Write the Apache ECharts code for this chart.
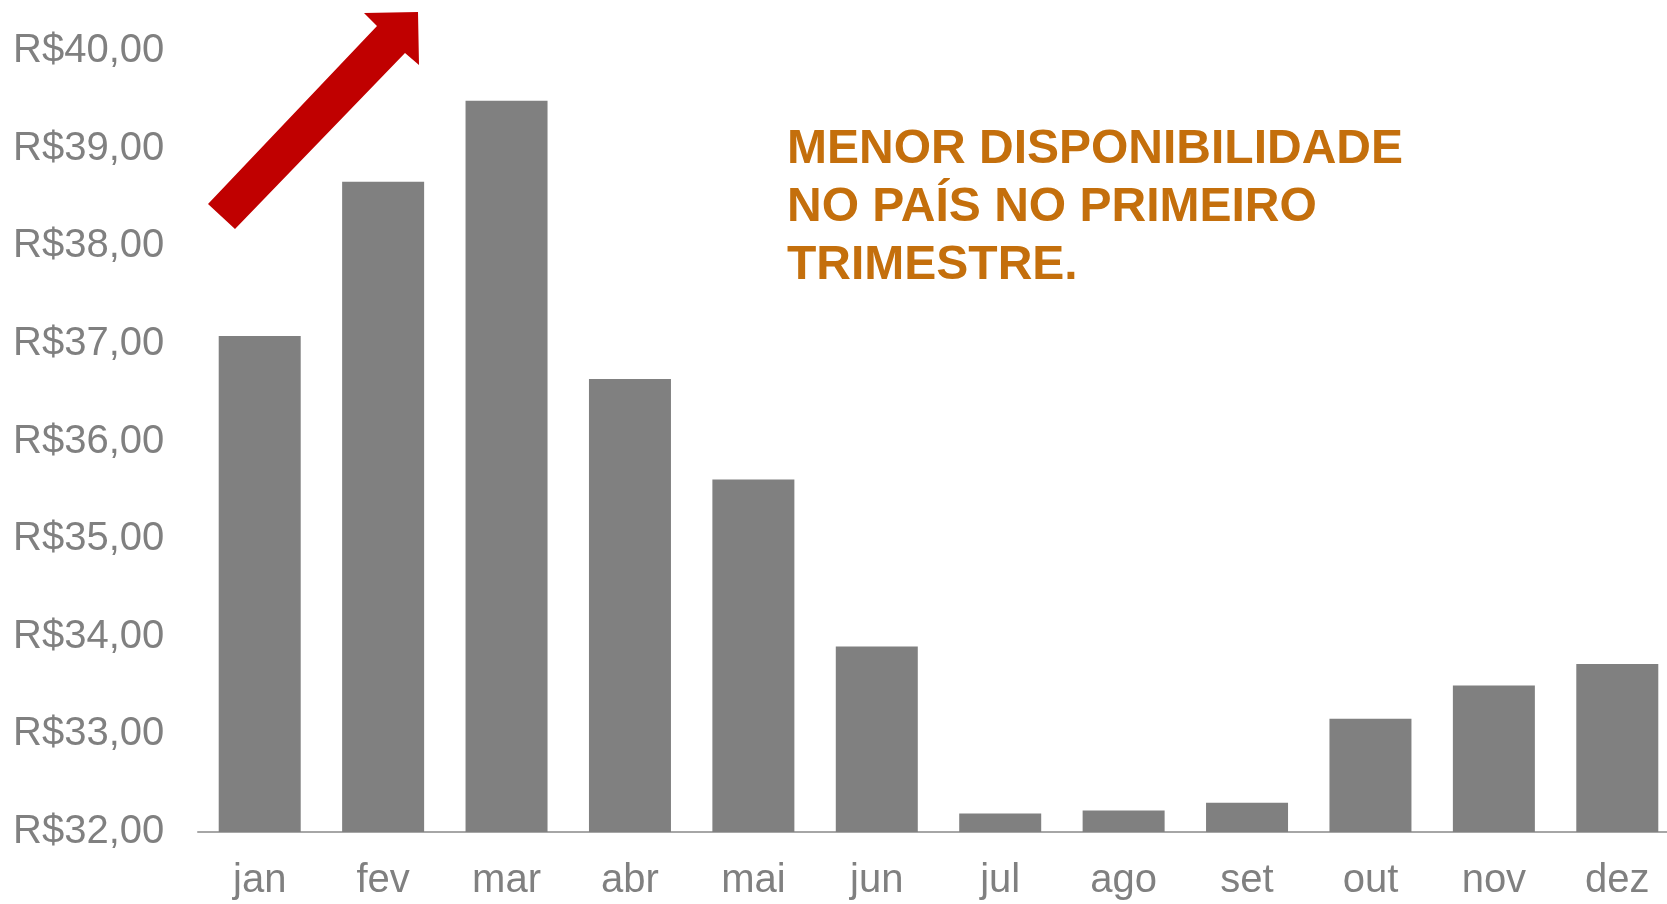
<!DOCTYPE html>
<html>
<head>
<meta charset="utf-8">
<title>Preço médio mensal</title>
<script src="https://cdn.jsdelivr.net/npm/echarts@6/dist/echarts.min.js"></script>
<style>
  html, body { margin: 0; padding: 0; background: #fff; }
  #main { width: 1667px; height: 904px; }
</style>
</head>
<body>
<div id="main"></div>
<script>
// meses e valores (R$)
var meses = ['jan', 'fev', 'mar', 'abr', 'mai', 'jun', 'jul', 'ago', 'set', 'out', 'nov', 'dez'];
var precos = [37.08, 38.66, 39.49, 36.64, 35.61, 33.90, 32.19, 32.22, 32.30, 33.16, 33.50, 33.72];
var eixoY = { min: 32, max: 40, passo: 1 };
var nota = ['MENOR DISPONIBILIDADE', 'NO PAÍS NO PRIMEIRO', 'TRIMESTRE.'];

var cinza = '#808080';
var fonte = '"Liberation Sans", Arial, sans-serif';

var chart = echarts.init(document.getElementById('main'));

chart.setOption({
  backgroundColor: '#ffffff',
  animation: false,
  grid: {
    left: 198,
    top: 51,
    width: 1481,
    bottom: 72,
    containLabel: false,
    outerBoundsMode: 'none'
  },
  xAxis: {
    type: 'category',
    data: meses,
    axisLine: { lineStyle: { color: '#A6A6A6', width: 2 } },
    axisTick: { show: false },
    axisLabel: {
      color: cinza,
      fontFamily: fonte,
      fontSize: 40,
      margin: 29
    }
  },
  yAxis: {
    type: 'value',
    min: eixoY.min,
    max: eixoY.max,
    interval: eixoY.passo,
    axisLine: { show: false },
    axisTick: { show: false },
    splitLine: { show: false },
    axisLabel: {
      color: cinza,
      fontFamily: fonte,
      fontSize: 40,
      align: 'left',
      margin: 185,
      padding: [5, 0, 0, 0],
      formatter: function (v) {
        return 'R$' + v.toFixed(2).replace('.', ',');
      }
    }
  },
  series: [{
    type: 'bar',
    data: precos,
    barWidth: 82,
    itemStyle: { color: cinza },
    z: 3
  }],
  graphic: [
    {
      // seta vermelha
      type: 'polygon',
      shape: {
        points: [[208, 204], [377, 26], [364, 13], [418, 12], [419, 65], [405, 53], [235, 229]]
      },
      style: { fill: '#C00000' },
      z: 10
    },
    {
      type: 'text',
      left: 787,
      top: 121,
      style: {
        text: nota.join('\n'),
        fill: '#C46F0C',
        font: 'bold 48px ' + fonte,
        lineHeight: 58
      },
      z: 10
    }
  ]
});

window.onresize = chart.resize;
</script>
</body>
</html>
